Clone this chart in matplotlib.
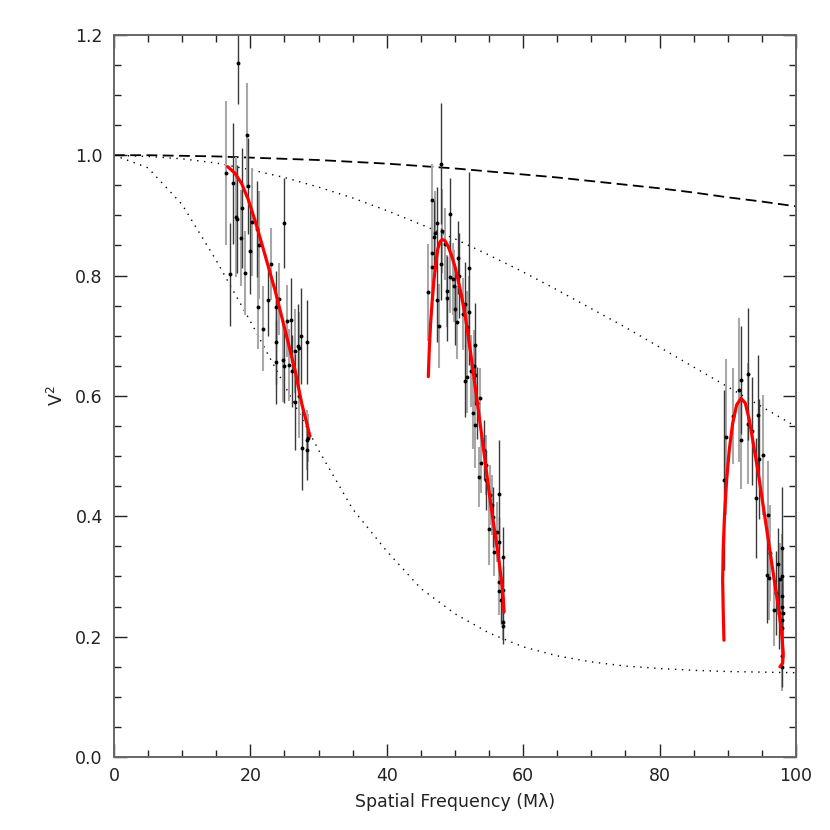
import matplotlib
matplotlib.use("Agg")
import matplotlib.pyplot as plt
import numpy as np
from matplotlib.ticker import MultipleLocator, FormatStrFormatter

params = {"font.family": "DejaVu Sans", "mathtext.fontset": "dejavusans"}
matplotlib.rcParams.update(params)

# model curves (x in Mlambda)
model_x = [0, 5, 10, 15, 20, 25, 30, 35, 40, 45, 50, 55, 60, 65, 70, 75, 80, 85, 90, 95, 100]
dashed_y = [1.000, 1.000, 0.999, 0.998, 0.996, 0.994, 0.992, 0.989, 0.986, 0.982, 0.978,
            0.973, 0.968, 0.963, 0.957, 0.951, 0.945, 0.938, 0.930, 0.923, 0.915]
dot_hi_y = [1.000, 0.998, 0.994, 0.987, 0.976, 0.963, 0.947, 0.929, 0.908, 0.885, 0.861,
            0.834, 0.806, 0.776, 0.745, 0.714, 0.681, 0.648, 0.615, 0.582, 0.549]
dot_lo_y = [1.000, 0.979, 0.918, 0.825, 0.724, 0.618, 0.510, 0.412, 0.342, 0.280, 0.238,
            0.206, 0.183, 0.168, 0.158, 0.151, 0.147, 0.144, 0.142, 0.141, 0.140]

# data, first baseline group
x1 = [18.2, 19.5, 16.5, 17.5, 19.7, 17.9, 18.1, 18.8, 20.2, 18.6, 17.0, 19.2, 19.9, 21.0,
      21.3, 25.0, 23.0, 22.6, 21.1, 21.8, 23.7, 24.2, 23.8, 23.8, 24.8, 25.0, 25.4, 26.0,
      25.6, 26.1, 26.6, 27.0, 27.2, 27.4, 28.3, 27.1, 26.6, 27.6, 28.3, 28.3, 28.5]
y1 = [1.153, 1.033, 0.970, 0.953, 0.949, 0.897, 0.894, 0.912, 0.889, 0.862, 0.802, 0.804,
      0.840, 0.877, 0.851, 0.887, 0.819, 0.760, 0.748, 0.712, 0.748, 0.761, 0.689, 0.656,
      0.660, 0.649, 0.725, 0.726, 0.651, 0.642, 0.675, 0.683, 0.679, 0.700, 0.690, 0.600,
      0.590, 0.514, 0.527, 0.510, 0.530]
e1 = [0.068, 0.087, 0.12, 0.10, 0.08, 0.10, 0.09, 0.10, 0.09, 0.08, 0.085, 0.07, 0.07,
      0.08, 0.09, 0.075, 0.06, 0.06, 0.07, 0.07, 0.06, 0.06, 0.07, 0.07, 0.07, 0.06, 0.06,
      0.07, 0.06, 0.06, 0.07, 0.07, 0.06, 0.08, 0.07, 0.07, 0.08, 0.07, 0.05, 0.05, 0.04]
s1 = [0, 1, 1, 0, 0, 1, 0, 0, 1, 1, 0, 1, 0, 0, 1, 0, 1, 0, 1, 1, 0, 1, 0, 0, 1, 0, 1,
      0, 1, 0, 1, 0, 1, 0, 0, 1, 0, 0, 1, 0, 1]

# second group
x2 = [47.9, 46.6, 47.4, 49.2, 48.1, 47.1, 46.9, 46.7, 48.6, 47.9, 46.6, 46.1, 47.3, 47.7,
      50.4, 49.3, 49.7, 50.6, 48.9, 48.8, 49.9, 50.0, 50.3, 51.2, 52.1, 51.5, 52.1, 51.8,
      52.9, 52.8, 52.4, 51.5, 51.8, 53.0, 53.6, 53.2, 52.7, 52.9, 54.3, 53.8, 54.5, 54.6,
      53.5, 55.1, 56.5, 55.5, 55.6, 55.0, 56.1, 56.4, 55.7, 57.0, 56.4, 57.0, 56.4, 56.7,
      57.1, 57.1]
y2 = [0.986, 0.925, 0.887, 0.902, 0.874, 0.870, 0.864, 0.838, 0.852, 0.819, 0.815, 0.772,
      0.760, 0.716, 0.830, 0.797, 0.794, 0.800, 0.774, 0.762, 0.782, 0.744, 0.722, 0.736,
      0.812, 0.753, 0.740, 0.715, 0.685, 0.649, 0.642, 0.625, 0.632, 0.635, 0.596, 0.588,
      0.571, 0.551, 0.510, 0.489, 0.485, 0.460, 0.465, 0.435, 0.437, 0.419, 0.399, 0.379,
      0.374, 0.358, 0.340, 0.332, 0.291, 0.278, 0.276, 0.261, 0.225, 0.218]
e2 = [0.10, 0.06, 0.06, 0.06, 0.07, 0.07, 0.06, 0.07, 0.06, 0.06, 0.07, 0.08, 0.07, 0.07,
      0.06, 0.06, 0.06, 0.07, 0.06, 0.07, 0.06, 0.06, 0.06, 0.06, 0.16, 0.07, 0.06, 0.06,
      0.07, 0.06, 0.06, 0.06, 0.06, 0.05, 0.05, 0.06, 0.06, 0.07, 0.05, 0.05, 0.05, 0.05,
      0.05, 0.05, 0.09, 0.05, 0.05, 0.06, 0.05, 0.04, 0.04, 0.05, 0.04, 0.04, 0.04, 0.04,
      0.03, 0.03]
s2 = [0, 1, 0, 0, 1, 1, 0, 1, 1, 0, 1, 1, 0, 1, 0, 1, 1, 0, 1, 0, 1, 0, 1, 1, 0, 0, 1,
      1, 0, 1, 1, 0, 1, 0, 1, 0, 1, 1, 0, 1, 1, 0, 1, 1, 0, 1, 0, 1, 1, 0, 1, 0, 1, 0,
      1, 0, 1, 0]

# third group
x3 = [89.7, 89.4, 90.8, 91.7, 92.0, 92.9, 92.0, 93.0, 93.6, 94.4, 94.6, 95.1, 94.1, 95.9,
      96.2, 95.8, 96.0, 97.4, 97.9, 97.9, 97.7, 97.0, 96.8, 98.0, 97.9, 97.5, 98.1, 98.0,
      97.9, 98.0, 97.9]
y3 = [0.532, 0.460, 0.567, 0.610, 0.627, 0.636, 0.526, 0.554, 0.542, 0.568, 0.495, 0.502,
      0.430, 0.402, 0.339, 0.302, 0.298, 0.321, 0.348, 0.300, 0.295, 0.272, 0.245, 0.268,
      0.249, 0.239, 0.239, 0.228, 0.214, 0.167, 0.150]
e3 = [0.13, 0.15, 0.08, 0.12, 0.09, 0.11, 0.08, 0.10, 0.09, 0.10, 0.10, 0.10, 0.10, 0.09,
      0.08, 0.08, 0.07, 0.06, 0.10, 0.07, 0.06, 0.07, 0.06, 0.08, 0.07, 0.06, 0.06, 0.06,
      0.06, 0.05, 0.04]
s3 = [1, 0, 1, 1, 0, 0, 1, 1, 0, 0, 0, 1, 0, 1, 1, 0, 1, 0, 0, 1, 1, 0, 1, 0, 1, 0, 1,
      0, 1, 0, 1]

# fitted model (red)
r1x = [16.67, 17.74, 18.72, 19.70, 20.67, 21.65, 22.63, 23.61, 24.59, 25.56, 26.54,
       27.52, 28.74]
r1y = [0.981, 0.970, 0.953, 0.926, 0.892, 0.854, 0.815, 0.776, 0.732, 0.688, 0.643,
       0.588, 0.533]
r2x = [46.09, 46.23, 46.43, 46.68, 46.92, 47.21, 47.46, 47.80, 48.14, 48.53, 49.02,
       49.51, 50.00, 50.49, 50.98, 51.47, 51.95, 52.5, 53.0, 53.5, 54.0, 54.5, 55.0,
       55.5, 56.0, 56.5, 56.9, 57.1, 57.2]
r2y = [0.632, 0.676, 0.721, 0.760, 0.793, 0.820, 0.843, 0.856, 0.860, 0.858, 0.848,
       0.833, 0.815, 0.791, 0.765, 0.735, 0.699, 0.655, 0.612, 0.570, 0.528, 0.485,
       0.440, 0.400, 0.362, 0.322, 0.285, 0.262, 0.241]
r3x = [89.44, 89.34, 89.25, 89.34, 89.54, 89.83, 90.22, 90.71, 91.30, 91.94, 92.57,
       93.16, 93.74, 94.48, 95.21, 95.94, 96.67, 97.41, 97.90, 98.14, 98.05, 97.65]
r3y = [0.194, 0.239, 0.294, 0.350, 0.405, 0.460, 0.510, 0.554, 0.585, 0.596, 0.588,
       0.560, 0.521, 0.471, 0.416, 0.361, 0.305, 0.250, 0.206, 0.172, 0.156, 0.150]

shade_col = ["#3a3a3a", "#a8a8a8"]

fig = plt.figure(figsize=(8.3, 8.3), dpi=100)
ax = fig.add_axes([0.1373, 0.088, 0.8217, 0.870])

ax.plot(model_x, dashed_y, color="black", lw=1.3, linestyle=(0, (6, 3)))
ax.plot(model_x, dot_hi_y, color="black", lw=1.0, linestyle=(0, (1, 4)))
ax.plot(model_x, dot_lo_y, color="black", lw=1.0, linestyle=(0, (1, 4)))

for xs, ys, es, ss in [(x1, y1, e1, s1), (x2, y2, e2, s2), (x3, y3, e3, s3)]:
    xs = np.array(xs)
    ys = np.array(ys)
    es = np.array(es)
    ss = np.array(ss)
    for k in [1, 0]:
        m = ss == k
        ax.vlines(xs[m], ys[m] - es[m], ys[m] + es[m], color=shade_col[k],
                  lw=1.5 if k == 1 else 1.0)
    ax.plot(xs, ys, "o", color="black", ms=2.8, mec="none")

for rx, ry in [(r1x, r1y), (r2x, r2y), (r3x, r3y)]:
    ax.plot(rx, ry, color="red", lw=2.3, solid_capstyle="round", solid_joinstyle="round")

ax.set_xlim(0, 100)
ax.set_ylim(0, 1.2)
ax.xaxis.set_major_locator(MultipleLocator(20))
ax.xaxis.set_minor_locator(MultipleLocator(5))
ax.yaxis.set_major_locator(MultipleLocator(0.2))
ax.yaxis.set_minor_locator(MultipleLocator(0.05))
ax.xaxis.set_major_formatter(FormatStrFormatter("%d"))
ax.yaxis.set_major_formatter(FormatStrFormatter("%.1f"))

ax.tick_params(which="both", direction="in", top=True, right=True, color="#222222",
               labelsize=12.5, labelcolor="#222222")
ax.tick_params(which="major", length=9.5, width=1.0)
ax.tick_params(which="minor", length=5, width=1.0)
ax.tick_params(axis="x", which="major", pad=7)
ax.tick_params(axis="y", which="major", pad=8)
for sp in ax.spines.values():
    sp.set_color("#666666")
    sp.set_linewidth(1.4)

ax.set_xlabel("Spatial Frequency (M\u03bb)", fontsize=12.5, color="#222222", labelpad=6)
ax.set_ylabel("V$^2$", fontsize=12.5, color="#222222", labelpad=6)

plt.savefig("out.png", dpi=100)
